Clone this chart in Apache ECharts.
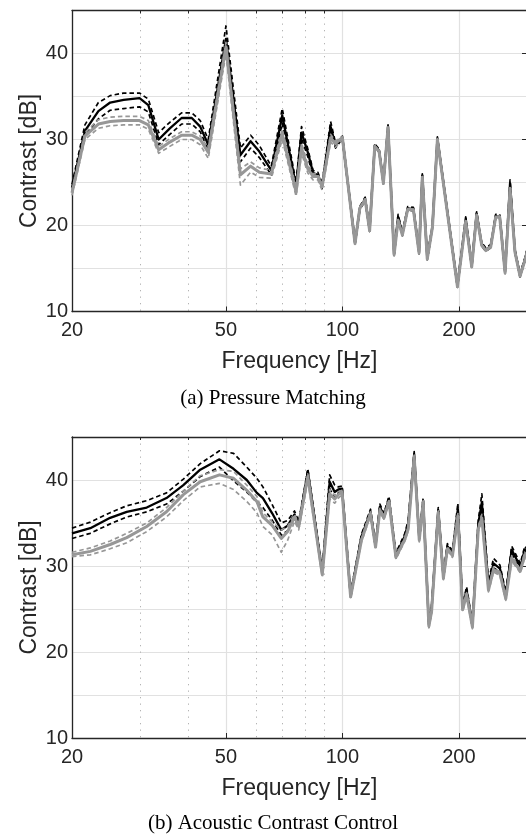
<!DOCTYPE html>
<html>
<head>
<meta charset="utf-8">
<script src="https://cdn.jsdelivr.net/npm/echarts@6/dist/echarts.min.js"></script>
<style>
html,body{margin:0;padding:0;background:#fff;overflow:hidden;width:526px;height:836px}
#c{width:540px;height:836px}
</style>
</head>
<body>
<div id="c"></div>
<script>
// ---------- (a) Pressure Matching ----------
const freqA = [20, 21.6, 23.4, 25.1, 27.2, 29.9, 31.5, 33.5, 35.8, 38.4, 40.8, 42.9, 45, 50, 54.5, 57.9, 61, 65.5, 69.9, 75.9, 78.4, 81.4, 84, 86.4, 88.6, 93.2, 96, 98.5, 100, 107.8, 110.9, 114.5, 117.6, 121.2, 124.4, 127.6, 131.2, 136.0, 139.3, 142.9, 147.5, 152.6, 157.8, 160.9, 165.7, 170.9, 176.0, 198.3, 208.3, 215.9, 222.3, 229.1, 234.7, 241.7, 249.0, 255.0, 263.3, 271.2, 279.3, 287.8, 296.5, 300];
const pmBlackMean = [24.4, 31.0, 33.3, 34.3, 34.6, 34.8, 34.0, 30.0, 31.3, 32.5, 32.5, 31.5, 29.4, 41.7, 28.2, 29.8, 28.6, 26.4, 32.8, 24.6, 30.8, 28.5, 26.1, 25.9, 24.6, 31.5, 29.3, 29.9, 30.2, 18.0, 22.0, 23.1, 19.5, 29.3, 28.7, 25.0, 31.5, 16.7, 21.0, 19.0, 22.0, 21.9, 16.9, 25.8, 16.2, 19.9, 30.1, 13.0, 20.8, 15.3, 21.4, 17.8, 17.2, 17.6, 21.1, 21.1, 14.6, 24.9, 17.0, 14.2, 16.1, 17.0];
const pmBlackUpper = [24.8, 31.7, 34.3, 35.1, 35.4, 35.4, 34.7, 30.8, 32.0, 33.1, 33.1, 32.2, 30.0, 43.2, 29.0, 30.5, 29.3, 26.9, 33.6, 25.0, 31.5, 28.9, 26.4, 26.2, 24.9, 32.1, 29.6, 30.1, 30.4, 18.2, 22.2, 23.3, 19.7, 29.5, 28.9, 25.2, 31.7, 16.9, 21.3, 19.2, 22.2, 22.1, 17.1, 26.0, 16.4, 20.1, 30.3, 13.2, 21.0, 15.5, 21.6, 18.0, 17.4, 17.8, 21.3, 21.3, 14.8, 25.3, 17.2, 14.4, 16.3, 17.2];
const pmBlackLower = [24.0, 30.4, 32.4, 33.4, 33.6, 33.8, 33.2, 29.4, 30.6, 31.8, 31.8, 30.9, 28.8, 40.3, 27.4, 29.0, 27.9, 25.9, 31.9, 24.2, 30.1, 28.0, 25.7, 25.6, 24.3, 30.9, 29.0, 29.7, 30.0, 17.8, 21.8, 22.9, 19.3, 29.1, 28.5, 24.8, 31.3, 16.5, 20.7, 18.8, 21.8, 21.7, 16.7, 25.6, 16.0, 19.7, 29.9, 12.8, 20.6, 15.1, 21.2, 17.6, 17.0, 17.4, 20.9, 20.9, 14.4, 24.5, 16.8, 14.0, 15.9, 16.8];
const pmGrayMean = [23.8, 30.4, 31.8, 32.1, 32.2, 32.2, 31.7, 28.8, 29.7, 30.5, 30.5, 30.0, 28.5, 40.8, 25.9, 26.9, 26.2, 26.0, 30.6, 23.9, 29.0, 26.6, 25.7, 25.7, 24.5, 30.2, 29.5, 30.0, 30.2, 17.9, 22.0, 23.0, 19.4, 29.2, 28.6, 24.9, 31.4, 16.6, 20.6, 18.9, 21.9, 21.8, 16.8, 25.6, 16.1, 19.8, 30.0, 12.9, 20.5, 15.2, 21.2, 17.7, 17.1, 17.5, 21.0, 21.0, 14.5, 24.3, 16.9, 14.1, 16.0, 16.9];
const pmGrayUpper = [24.1, 30.8, 32.3, 32.6, 32.7, 32.7, 32.2, 29.2, 30.1, 30.9, 30.9, 30.4, 29.0, 41.3, 26.6, 27.4, 26.7, 26.4, 31.2, 24.4, 29.6, 27.0, 26.0, 26.0, 24.8, 30.6, 29.8, 30.2, 30.3, 18.0, 22.1, 23.1, 19.5, 29.3, 28.7, 25.0, 31.5, 16.7, 20.7, 19.0, 22.0, 21.9, 16.9, 25.7, 16.2, 19.9, 30.1, 13.0, 20.6, 15.3, 21.3, 17.8, 17.2, 17.6, 21.1, 21.1, 14.6, 24.4, 17.0, 14.2, 16.1, 17.0];
const pmGrayLower = [23.5, 30.0, 31.3, 31.6, 31.7, 31.7, 31.2, 28.4, 29.2, 30.0, 30.0, 29.4, 27.8, 40.0, 24.7, 26.2, 25.6, 25.5, 30.0, 23.4, 28.4, 26.1, 25.3, 25.3, 24.1, 29.7, 29.1, 29.7, 30.0, 17.8, 21.9, 22.9, 19.3, 29.1, 28.5, 24.8, 31.3, 16.5, 20.5, 18.8, 21.8, 21.7, 16.7, 25.5, 16.0, 19.7, 29.9, 12.8, 20.4, 15.1, 21.1, 17.6, 17.0, 17.4, 20.9, 20.9, 14.4, 24.2, 16.8, 14.0, 15.9, 16.8];

// ---------- (b) Acoustic Contrast Control ----------
const freqB = [20, 22.3, 25.1, 27.7, 31.2, 35.1, 38.8, 42.9, 48.1, 52.3, 56.6, 60.1, 62.3, 65.9, 69.5, 72.2, 75.2, 77.1, 81.4, 88.7, 92.7, 95.5, 97.6, 99.8, 105, 112, 118.2, 121.8, 125, 128, 131.9, 137.5, 145, 147.9, 153.3, 158, 161.7, 167.3, 170, 176.9, 182.4, 186.8, 192.5, 198.8, 204.5, 209.4, 216.8, 224.5, 229.3, 238.5, 245.8, 255.4, 264.4, 273.9, 288.3, 296, 300];
const accBlackMean = [33.8, 34.4, 35.6, 36.3, 36.8, 37.9, 39.4, 41.2, 42.4, 41.3, 40.0, 38.5, 37.9, 36.1, 34.2, 34.7, 36.0, 34.8, 41.0, 29.3, 39.8, 38.6, 38.9, 39.0, 26.6, 33.4, 36.3, 32.4, 36.9, 35.8, 37.8, 31.2, 33.5, 34.9, 43.0, 33.2, 37.6, 23.2, 25.0, 36.5, 28.8, 32.3, 31.5, 36.6, 25.2, 27.2, 23.1, 34.9, 37.4, 27.8, 30.3, 29.7, 26.6, 31.9, 29.9, 31.9, 31.5];
const accBlackUpper = [34.4, 35.1, 36.2, 37.0, 37.6, 38.5, 40.1, 41.9, 43.4, 43.1, 41.5, 40.2, 39.2, 37.1, 35.0, 35.3, 36.4, 35.2, 41.3, 29.6, 40.6, 39.4, 39.2, 39.3, 26.9, 33.7, 36.6, 32.7, 37.2, 36.1, 38.1, 31.5, 33.8, 35.3, 43.3, 33.5, 37.9, 23.5, 25.3, 36.8, 29.1, 32.6, 31.8, 37.3, 25.5, 27.6, 23.4, 35.3, 38.4, 28.2, 30.9, 30.1, 27.0, 32.3, 30.3, 32.3, 31.9];
const accBlackLower = [33.2, 33.8, 34.9, 35.7, 36.3, 37.2, 38.7, 40.4, 41.5, 39.9, 38.6, 37.4, 36.8, 35.3, 33.6, 34.1, 35.6, 34.4, 40.6, 29.0, 39.0, 38.0, 38.5, 38.7, 26.3, 33.1, 36.0, 32.1, 36.6, 35.5, 37.5, 30.9, 33.2, 34.5, 42.7, 32.9, 37.3, 22.9, 24.7, 36.2, 28.5, 32.0, 31.2, 36.0, 24.9, 26.8, 22.8, 34.5, 36.6, 27.4, 29.8, 29.3, 26.2, 31.5, 29.6, 31.6, 31.2];
const accGrayMean = [31.3, 31.7, 32.5, 33.3, 34.6, 36.3, 38.3, 39.8, 40.6, 40.2, 38.8, 37.5, 35.7, 34.7, 33.2, 34.0, 35.7, 34.6, 40.4, 29.0, 38.4, 37.8, 38.3, 38.6, 26.4, 33.0, 36.1, 32.2, 36.5, 35.6, 37.5, 31.0, 33.1, 34.3, 42.7, 33.0, 37.4, 23.0, 24.7, 36.2, 28.6, 32.0, 31.2, 35.8, 24.9, 26.7, 22.9, 34.3, 35.6, 27.2, 29.6, 29.1, 26.2, 30.9, 29.4, 31.3, 30.9];
const accGrayUpper = [31.6, 32.1, 32.9, 33.8, 35.0, 36.8, 38.7, 40.5, 41.2, 41.0, 39.4, 38.1, 36.2, 35.1, 34.2, 34.6, 36.0, 34.9, 40.7, 29.3, 38.9, 38.2, 38.6, 38.8, 26.6, 33.2, 36.3, 32.4, 36.7, 35.8, 37.7, 31.2, 33.3, 34.5, 42.9, 33.2, 37.6, 23.2, 24.9, 36.4, 28.8, 32.2, 31.4, 36.1, 25.1, 26.9, 23.1, 34.6, 36.0, 27.4, 29.9, 29.3, 26.4, 31.2, 29.6, 31.6, 31.1];
const accGrayLower = [31.1, 31.3, 32.0, 32.7, 34.0, 35.7, 37.6, 39.2, 39.6, 38.9, 37.5, 36.2, 34.6, 33.6, 31.6, 33.0, 35.2, 34.2, 40.0, 28.7, 37.8, 37.3, 37.9, 38.3, 26.2, 32.8, 35.9, 32.0, 36.3, 35.4, 37.3, 30.8, 32.9, 34.1, 42.5, 32.8, 37.2, 22.8, 24.5, 36.0, 28.4, 31.8, 31.0, 35.5, 24.7, 26.5, 22.7, 34.0, 35.2, 27.0, 29.3, 28.9, 26.0, 30.6, 29.2, 31.0, 30.7];

// ---------- axes / text ----------
const xMajorTicks = [20, 50, 100, 200];
const xMinorTicks = [30, 40, 60, 70, 80, 90];
const yLabelTicks = [10, 20, 30, 40];
const xName = 'Frequency [Hz]';
const yName = 'Contrast [dB]';
const captions = ['(a) Pressure Matching', '(b) Acoustic Contrast Control'];

const SANS = 'Liberation Sans, Arial, Helvetica, sans-serif';
const SERIF = 'Liberation Serif, Times New Roman, serif';
const AXIS_C = '#262626';
const GRID_C = '#e1e1e1';
const BLACK = '#000000';
const GRAY = '#979797';

const gridTops = [10.5, 437];
const gridH = 301;

const xAxes = [], yAxes = [], series = [];
[0, 1].forEach(gi => {
  xAxes.push({
    type: 'log', logBase: 10, gridIndex: gi, min: 20, max: 300, position: 'bottom',
    name: xName, nameLocation: 'middle', nameGap: 39, nameMoveOverlap: false,
    nameTextStyle: { fontSize: 23, color: AXIS_C, fontFamily: SANS },
    axisLine: { show: true, onZero: false, lineStyle: { color: AXIS_C, width: 1.3 } },
    axisTick: { show: true, inside: true, length: 5, customValues: xMajorTicks, lineStyle: { color: AXIS_C, width: 1 } },
    axisLabel: { show: true, customValues: xMajorTicks, fontSize: 20, color: AXIS_C, fontFamily: SANS, margin: 9,
      formatter: v => String(Math.round(v)) },
    splitLine: { show: true, lineStyle: { color: GRID_C, width: 1.2 } },
    minorTick: { show: false }, minorSplitLine: { show: false }
  });
  xAxes.push({
    type: 'log', logBase: 10, gridIndex: gi, min: 20, max: 300, position: 'top',
    axisLine: { show: true, onZero: false, lineStyle: { color: AXIS_C, width: 1.3 } },
    axisTick: { show: true, inside: true, length: 3, customValues: xMinorTicks, lineStyle: { color: AXIS_C, width: 1 } },
    axisLabel: { show: false },
    splitLine: { show: true, lineStyle: { color: '#b4b4b4', width: 1, type: [1.3, 5.2] } }
  });
  yAxes.push({
    type: 'value', gridIndex: gi, min: 10, max: 45, interval: 5, position: 'left',
    name: yName, nameLocation: 'middle', nameGap: 31, nameRotate: 90, nameMoveOverlap: false,
    nameTextStyle: { fontSize: 23, color: AXIS_C, fontFamily: SANS },
    axisLine: { show: true, onZero: false, lineStyle: { color: AXIS_C, width: 1.3 } },
    axisTick: { show: false },
    axisLabel: { show: true, customValues: yLabelTicks, fontSize: 20, color: AXIS_C, fontFamily: SANS, margin: 4 },
    splitLine: { show: true, lineStyle: { color: GRID_C, width: 1.2 } }
  });
  yAxes.push({
    type: 'value', gridIndex: gi, min: 10, max: 45, interval: 5, position: 'right',
    axisLine: { show: true, onZero: false, lineStyle: { color: AXIS_C, width: 1.3 } },
    axisTick: { show: true, inside: true, length: 5, customValues: yLabelTicks, lineStyle: { color: AXIS_C, width: 1 } },
    axisLabel: { show: false },
    splitLine: { show: false }
  });
});

function line(name, xs, ys, color, width, dashed, gi, z) {
  return {
    name, type: 'line', xAxisIndex: gi * 2, yAxisIndex: gi * 2,
    data: xs.map((f, k) => [f, ys[k]]),
    symbol: 'none', showSymbol: false, silent: true, clip: true, z,
    lineStyle: { color, width, type: dashed ? [4.5, 3] : 'solid', join: 'round', cap: 'butt' },
    itemStyle: { color }, emphasis: { disabled: true }
  };
}

const sets = [
  [freqA, pmBlackMean, pmBlackUpper, pmBlackLower, pmGrayMean, pmGrayUpper, pmGrayLower],
  [freqB, accBlackMean, accBlackUpper, accBlackLower, accGrayMean, accGrayUpper, accGrayLower]
];
sets.forEach((s, gi) => {
  const [f, bm, bu, bl, gm, gu, gl] = s;
  series.push(line('black upper', f, bu, BLACK, 1.7, true, gi, 3));
  series.push(line('black lower', f, bl, BLACK, 1.7, true, gi, 3));
  series.push(line('black mean', f, bm, BLACK, 2.3, false, gi, 4));
  series.push(line('gray upper', f, gu, GRAY, 1.7, true, gi, 5));
  series.push(line('gray lower', f, gl, GRAY, 1.7, true, gi, 5));
  series.push(line('gray mean', f, gm, GRAY, 3, false, gi, 6));
});

const chart = echarts.init(document.getElementById('c'), null, { renderer: 'canvas' });
chart.setOption({
  animation: false,
  backgroundColor: '#ffffff',
  textStyle: { fontFamily: SANS },
  grid: gridTops.map(t => ({ left: 72, top: t, width: 455, height: gridH, containLabel: false, outerBoundsMode: 'none' })),
  xAxis: xAxes,
  yAxis: yAxes,
  series: series,
  graphic: captions.map((c, i) => ({
    type: 'text', x: 273, y: i === 0 ? 398 : 823, silent: true,
    style: { text: c, fontSize: 21, fontFamily: SERIF, fill: '#000', align: 'center', verticalAlign: 'middle' }
  }))
});
</script>
</body>
</html>
